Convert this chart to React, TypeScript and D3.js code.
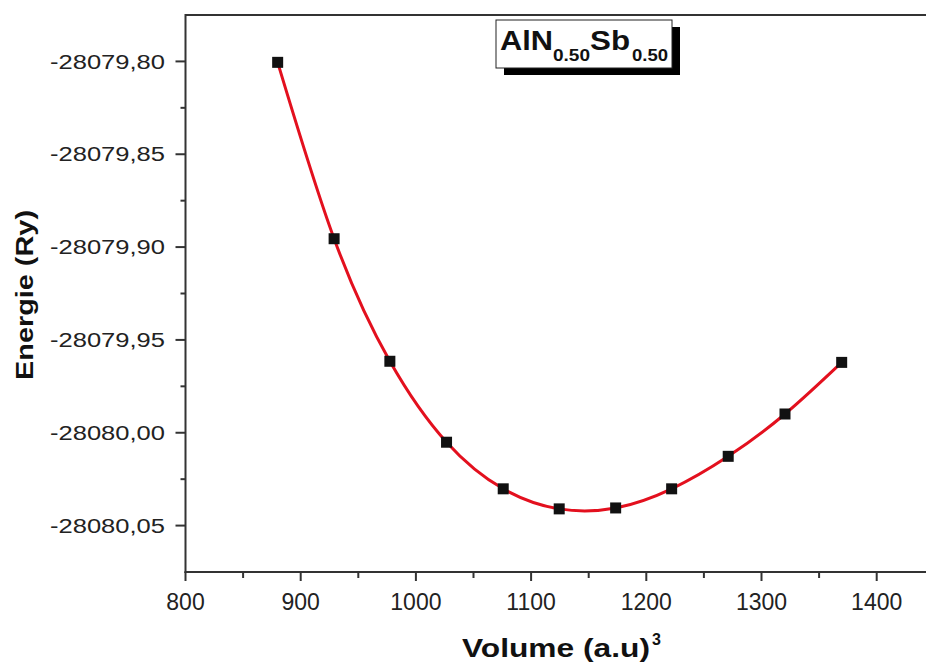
import React from "react";
import * as d3 from "d3";

const volumes = [880.0, 929.0, 977.4, 1026.6, 1075.8, 1124.4, 1173.4, 1222.0, 1271.1, 1320.4, 1369.6];
const energies = [-28079.8005, -28079.8955, -28079.9615, -28080.0051, -28080.0302, -28080.041, -28080.0405, -28080.0302, -28080.0127, -28079.9899, -28079.9621];
const xMajorTicks = [800, 900, 1000, 1100, 1200, 1300, 1400];
const xMinorTicks = [850, 950, 1050, 1150, 1250, 1350];
const yMajorTicks = [-28079.8, -28079.85, -28079.9, -28079.95, -28080.0, -28080.05];
const yMinorTicks = [-28079.825, -28079.875, -28079.925, -28079.975, -28080.025];
const yTickLabels = ["-28079,80", "-28079,85", "-28079,90", "-28079,95", "-28080,00", "-28080,05"];

const FONT = "'Liberation Sans', Arial, Helvetica, sans-serif";

export default function App() {
  const W = 926, H = 666;
  const left = 185.5, right = 934.3, top = 15, bottom = 572;
  const x = d3.scaleLinear().domain([800, 1450]).range([left, right]);
  const y = d3.scaleLinear().domain([-28080.075, -28079.775]).range([bottom, top]);
  const pts = volumes.map((v, i) => [x(v), y(energies[i])] as [number, number]);
  const line = d3.line().curve(d3.curveNatural)(pts) || "";
  const axisColor = "#333";

  return (
    <svg width={W} height={H} style={{ position: "absolute", left: 0, top: 0, background: "#fff" }} fontFamily={FONT}>
      <rect x={0} y={0} width={W} height={H} fill="#fff" />
      {/* axes */}
      <line x1={left} x2={W} y1={top} y2={top} stroke={axisColor} strokeWidth={2} />
      <line x1={left} x2={left} y1={top - 1} y2={bottom + 1} stroke={axisColor} strokeWidth={2} />
      <line x1={left - 1} x2={W} y1={bottom} y2={bottom} stroke={axisColor} strokeWidth={2} />
      {xMajorTicks.map((t) => (
        <g key={"xm" + t}>
          <line x1={x(t)} x2={x(t)} y1={bottom} y2={bottom + 9} stroke={axisColor} strokeWidth={2} />
          <text x={x(t)} y={610} fontSize={23} textAnchor="middle" fill="#222">{t}</text>
        </g>
      ))}
      {xMinorTicks.map((t) => (
        <line key={"xn" + t} x1={x(t)} x2={x(t)} y1={bottom} y2={bottom + 6} stroke={axisColor} strokeWidth={2} />
      ))}
      {yMajorTicks.map((t, i) => (
        <g key={"ym" + t}>
          <line x1={left - 10} x2={left} y1={y(t)} y2={y(t)} stroke={axisColor} strokeWidth={2} />
          <text x={165} y={y(t)} dy="0.36em" fontSize={20} textAnchor="end" fill="#222"
            textLength={115} lengthAdjust="spacingAndGlyphs">{yTickLabels[i]}</text>
        </g>
      ))}
      {yMinorTicks.map((t) => (
        <line key={"yn" + t} x1={left - 5} x2={left} y1={y(t)} y2={y(t)} stroke={axisColor} strokeWidth={2} />
      ))}
      {/* curve */}
      <path d={line} fill="none" stroke="#e3101e" strokeWidth={3} />
      {pts.map(([px, py], i) => (
        <rect key={"p" + i} x={px - 5.5} y={py - 5.5} width={11} height={11} fill="#111" />
      ))}
      {/* title box */}
      <rect x={504} y={27} width={176} height={48} fill="#000" />
      <rect x={496} y={20} width={176} height={48} fill="#fff" stroke="#222" strokeWidth={1} />
      <text x={500} y={50} fontSize={28} fontWeight="bold" fill="#111" textLength={53} lengthAdjust="spacingAndGlyphs">AlN</text>
      <text x={553} y={61} fontSize={16} fontWeight="bold" fill="#111" textLength={37} lengthAdjust="spacingAndGlyphs">0.50</text>
      <text x={590} y={50} fontSize={28} fontWeight="bold" fill="#111" textLength={40} lengthAdjust="spacingAndGlyphs">Sb</text>
      <text x={632} y={61} fontSize={16} fontWeight="bold" fill="#111" textLength={36} lengthAdjust="spacingAndGlyphs">0.50</text>
      {/* axis titles */}
      <text x={462} y={657} fontSize={26} fontWeight="bold" fill="#111" textLength={188} lengthAdjust="spacingAndGlyphs">Volume (a.u)</text>
      <text x={652} y={645} fontSize={16} fontWeight="bold" fill="#111">3</text>
      <text transform="translate(33,295) rotate(-90)" fontSize={23} fontWeight="bold" fill="#111" textAnchor="middle"
        textLength={170} lengthAdjust="spacingAndGlyphs">Energie (Ry)</text>
    </svg>
  );
}
